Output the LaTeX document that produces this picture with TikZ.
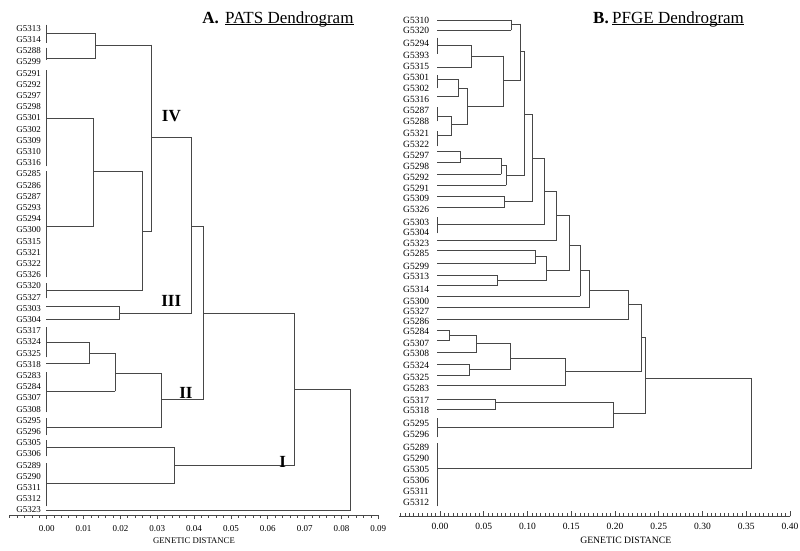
\documentclass[tikz,border=0pt]{standalone}
\usepackage{fontspec}
\setmainfont{Liberation Serif}
\newcommand{\dgH}[3]{\draw[dl] (#1,#3) -- (#2,#3);}
\newcommand{\dgV}[3]{\draw[dl] (#1,#2) -- (#1,#3);}
\begin{document}
\begin{tikzpicture}[x=1pt,y=-1pt,
  dl/.style={line width=0.75pt, draw=black!72, line cap=rect},
  lblL/.style={inner sep=0pt, font=\fontsize{9}{10}\selectfont},
  lblR/.style={inner sep=0pt, font=\fontsize{9.5}{10}\selectfont},
  tickL/.style={inner sep=0pt, font=\fontsize{9}{10}\selectfont},
  tickR/.style={inner sep=0pt, font=\fontsize{9.5}{10}\selectfont},
  roman/.style={inner sep=0pt, anchor=base, font=\fontsize{17}{18}\selectfont\bfseries},
  ttl/.style={inner sep=0pt, anchor=base west, font=\fontsize{17}{18}\selectfont}]
\useasboundingbox (0,0) rectangle (800,551);
\fill[white] (0,0) rectangle (800,551);

% ---------- titles ----------
\node[inner sep=0pt, anchor=base east, font=\fontsize{17}{18}\selectfont\bfseries] (tAl) at (219,23.3) {A.};
\node[ttl] (tA) at (225,23.3) {PATS Dendrogram};
\draw[line width=0.8pt] ([yshift=-1.6pt]tA.base west) -- ([yshift=-1.6pt]tA.base east);
\node[inner sep=0pt, anchor=base east, font=\fontsize{17}{18}\selectfont\bfseries] (tBl) at (609,23.3) {B.};
\node[ttl] (tB) at (612,23.3) {PFGE Dendrogram};
\draw[line width=0.8pt] ([yshift=-1.6pt]tB.base west) -- ([yshift=-1.6pt]tB.base east);

% ---------- left leaf labels ----------
\foreach \t [count=\i] in {G5313,G5314,G5288,G5299,G5291,G5292,G5297,G5298,G5301,G5302,G5309,G5310,G5316,G5285,G5286,G5287,G5293,G5294,G5300,G5315,G5321,G5322,G5326,G5320,G5327,G5303,G5304,G5317,G5324,G5325,G5318,G5283,G5284,G5307,G5308,G5295,G5296,G5305,G5306,G5289,G5290,G5311,G5312,G5323}
  \node[lblL, anchor=east] (L\i) at (41,{28.3+(\i-1)*11.2}) {\t};

% ---------- left dendrogram ----------
% leaf verticals
\dgV{46}{25}{43}
\dgV{46}{48}{60}
\dgV{46}{70}{166}
\dgV{46}{171}{277}
\dgV{46}{283}{298}
\dgV{46}{327}{357}
\dgV{46}{372}{412}
\dgV{46}{418}{435}
\dgV{46}{440}{456}
\dgV{46}{463}{506}
% cluster IV
\dgH{46}{95.7}{33.7} \dgH{46}{95.7}{58.3} \dgV{95.7}{33.7}{58.3}
\dgH{95.7}{151.3}{45}
\dgH{46}{93.3}{118.3} \dgH{46}{93.3}{226.7} \dgV{93.3}{118.3}{226.7}
\dgH{93.3}{142.7}{171.7}
\dgH{46}{142.7}{290.7} \dgV{142.7}{171.7}{290.7}
\dgH{142.7}{151.3}{231.7} \dgV{151.3}{45}{231.7}
\dgH{151.3}{191.7}{137.7}
% cluster III
\dgH{46}{119.3}{306.7} \dgH{46}{119.3}{319} \dgV{119.3}{306.7}{319}
\dgH{119.3}{191.7}{313}
\dgV{191.7}{137.7}{313} \dgH{191.7}{203.3}{226}
% cluster II
\dgH{46}{89.3}{342.7} \dgH{46}{89.3}{363.3} \dgV{89.3}{342.7}{363.3}
\dgH{89.3}{115}{353.3}
\dgH{46}{115}{391} \dgV{115}{353.3}{391}
\dgH{115}{161.7}{373.3}
\dgH{46}{161.7}{427.3} \dgV{161.7}{373.3}{427.3}
\dgH{161.7}{203.3}{399.3}
\dgV{203.3}{226}{399.3} \dgH{203.3}{294.3}{313.3}
% cluster I
\dgH{46}{174}{447.3} \dgH{46}{174}{483.3} \dgV{174}{447.3}{483.3}
\dgH{174}{294.3}{465.7}
\dgV{294.3}{313.3}{465.7} \dgH{294.3}{350.7}{389}
\dgH{46}{350.7}{510.7} \dgV{350.7}{389}{510.7}

% roman numerals
\node[roman] (rIV) at (171.4,121.7) {IV};
\node[roman] (rIII) at (171.2,306.7) {III};
\node[roman] (rII) at (186,398.3) {II};
\node[roman] (rI) at (282.7,467.3) {I};

% left axis
\draw[dl] (10,515) -- (378.7,515);
\foreach \m in {-5,...,45} {
  \pgfmathsetmacro\xx{46.7+7.37*\m}
  \draw[dl] (\xx,515) -- (\xx,517.5);
}
\foreach \k in {0,...,9} {
  \pgfmathsetmacro\xx{46.7+36.85*\k}
  \draw[dl] (\xx,515) -- (\xx,519);
  \node[tickL] (tl\k) at (\xx,529) {0.0\k};
}
\node[inner sep=0pt, font=\fontsize{8.7}{10}\selectfont] (gdL) at (194,540.7) {GENETIC DISTANCE};

% ---------- right leaf labels ----------
\foreach \t/\y [count=\i] in {G5310/20,G5320/30,G5294/43.7,G5393/55,G5315/66,G5301/77.7,G5302/88.7,G5316/99.3,G5287/110.3,G5288/121.7,G5321/133.3,G5322/144.3,G5297/155.3,G5298/166,G5292/177.3,G5291/188.3,G5309/198,G5326/209.3,G5303/222.3,G5304/232.7,G5323/243.3,G5285/253.3,G5299/266.7,G5313/276.7,G5314/289,G5300/301.7,G5327/311,G5286/321,G5284/331.7,G5307/343.3,G5308/353.3,G5324/365,G5325/377.3,G5283/388.3,G5317/400.2,G5318/410.6,G5295/423.3,G5296/434,G5289/447.3,G5290/458.3,G5305/469.3,G5306/480.7,G5311/491.7,G5312/502.7}
  \node[lblR, anchor=west] (R\i) at (403,\y) {\t};

% ---------- right dendrogram ----------
% leaf verticals
\dgV{437}{38}{54}
\dgV{437}{75}{88}
\dgV{437}{107}{121}
\dgV{437}{131}{146}
\dgV{437}{217}{233}
\dgV{437}{418}{437}
\dgV{437}{443}{506}
% top block
\dgH{437}{511}{20} \dgH{437}{511}{30} \dgV{511}{20}{30}
\dgH{511}{520.7}{24}
\dgH{437}{471.7}{45.3} \dgH{437}{471.7}{67.3} \dgV{471.7}{45.3}{67.3}
\dgH{471.7}{503.3}{56}
\dgH{437}{458.3}{79.3} \dgH{437}{458.3}{96.3} \dgV{458.3}{79.3}{96.3}
\dgH{458.3}{467.7}{88.3}
\dgH{437}{451.7}{116} \dgH{437}{451.7}{135} \dgV{451.7}{116}{135}
\dgH{451.7}{467.7}{124}
\dgV{467.7}{88.3}{124} \dgH{467.7}{503.3}{106.7}
\dgV{503.3}{56}{106.7} \dgH{503.3}{520.7}{80}
\dgV{520.7}{24}{80} \dgH{520.7}{524.3}{51.7}
\dgH{437}{460}{151.7} \dgH{437}{460}{162.7} \dgV{460}{151.7}{162.7}
\dgH{460}{501}{158}
\dgH{437}{501}{174} \dgV{501}{158}{174}
\dgH{501}{506}{165.7}
\dgH{437}{506}{185} \dgV{506}{165.7}{185}
\dgH{506}{524.3}{175.7}
\dgV{524.3}{51.7}{175.7} \dgH{524.3}{532.3}{114}
\dgH{437}{504}{196.7} \dgH{437}{504}{207.3} \dgV{504}{196.7}{207.3}
\dgH{504}{532.3}{201.7}
\dgV{532.3}{114}{201.7} \dgH{532.3}{544.3}{158.3}
\dgH{437}{544.3}{224.3} \dgV{544.3}{158.3}{224.3}
\dgH{544.3}{556}{191}
\dgH{437}{556}{240.7} \dgV{556}{191}{240.7}
\dgH{556}{569.3}{215.7}
\dgH{437}{535}{250} \dgH{437}{535}{263.3} \dgV{535}{250}{263.3}
\dgH{535}{546.7}{256}
\dgH{437}{497.3}{275} \dgH{437}{497.3}{285.3} \dgV{497.3}{275}{285.3}
\dgH{497.3}{546.7}{280}
\dgV{546.7}{256}{280} \dgH{546.7}{569.3}{270}
\dgV{569.3}{215.7}{270} \dgH{569.3}{580}{245.7}
\dgH{437}{580}{296} \dgV{580}{245.7}{296}
\dgH{580}{589.3}{270}
\dgH{437}{589.3}{307.3} \dgV{589.3}{270}{307.3}
\dgH{589.3}{628.3}{290}
\dgH{437}{628.3}{319} \dgV{628.3}{290}{319}
\dgH{628.3}{641.7}{304.7}
% middle block
\dgH{437}{449.3}{330} \dgH{437}{449.3}{340.7} \dgV{449.3}{330}{340.7}
\dgH{449.3}{476.7}{335}
\dgH{437}{476.7}{352.3} \dgV{476.7}{335}{352.3}
\dgH{476.7}{510}{343.3}
\dgH{437}{469.3}{364} \dgH{437}{469.3}{375} \dgV{469.3}{364}{375}
\dgH{469.3}{510}{369.3}
\dgV{510}{343.3}{369.3} \dgH{510}{565.7}{358.3}
\dgH{437}{565.7}{385} \dgV{565.7}{358.3}{385}
\dgH{565.7}{641.7}{371}
\dgV{641.7}{304.7}{371} \dgH{641.7}{645.7}{337.3}
\dgH{437}{495.7}{399.3} \dgH{437}{495.7}{409.3} \dgV{495.7}{399.3}{409.3}
\dgH{495.7}{613.3}{402.3}
\dgH{437}{613.3}{427.3} \dgV{613.3}{402.3}{427.3}
\dgH{613.3}{645.7}{413.3}
\dgV{645.7}{337.3}{413.3} \dgH{645.7}{751.7}{378.3}
\dgH{437}{751.7}{468.3} \dgV{751.7}{378.3}{468.3}

% right axis
\draw[dl] (399,516) -- (790,516);
\foreach \m in {-9,...,80} {
  \pgfmathsetmacro\xx{440+4.375*\m}
  \draw[dl] (\xx,516) -- (\xx,513.5);
}
\foreach \t [count=\k from 0] in {0.00,0.05,0.10,0.15,0.20,0.25,0.30,0.35,0.40} {
  \pgfmathsetmacro\xx{440+43.75*\k}
  \draw[dl] (\xx,516) -- (\xx,511.8);
  \node[tickR] (tr\k) at (\xx,526) {\t};
}
\node[inner sep=0pt, font=\fontsize{9.7}{10}\selectfont] (gdR) at (625.8,540) {GENETIC DISTANCE};
\end{tikzpicture}
\end{document}
